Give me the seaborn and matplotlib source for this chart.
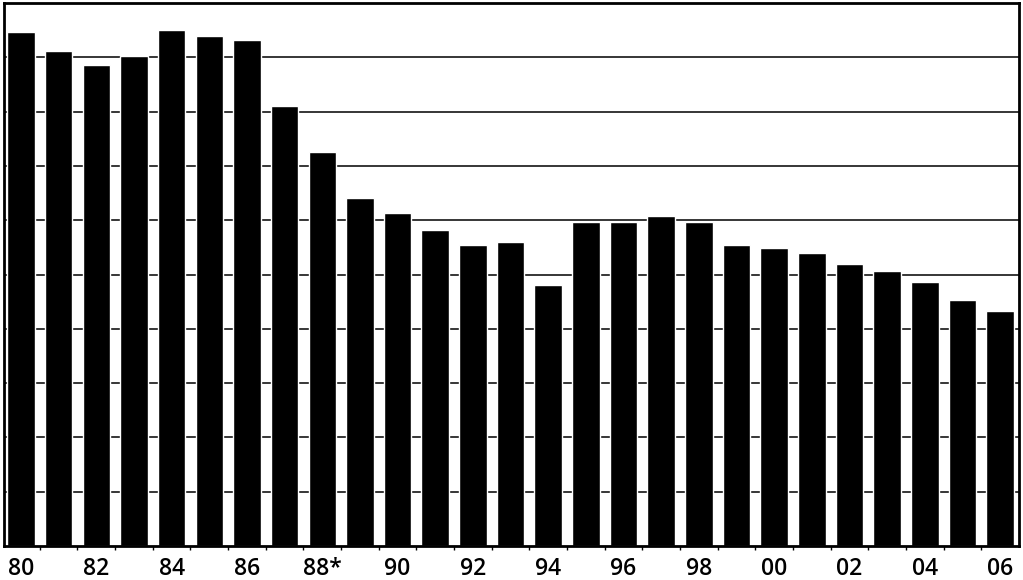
import matplotlib.pyplot as plt
import numpy as np
import pandas as pd
import seaborn as sns

years = ["80", "81", "82", "83", "84", "85", "86", "87", "88*", "89",
         "90", "91", "92", "93", "94", "95", "96", "97", "98", "99",
         "00", "01", "02", "03", "04", "05", "06"]
values = [9.47, 9.12, 8.86, 9.02, 9.50, 9.39, 9.32, 8.10, 7.26, 6.41,
          6.13, 5.82, 5.54, 5.60, 4.81, 5.97, 5.97, 6.08, 5.97, 5.54,
          5.49, 5.40, 5.19, 5.06, 4.86, 4.53, 4.33]
grid_levels = [1, 2, 3, 4, 5, 6, 7, 8, 9]

df = pd.DataFrame({"year": years, "value": values})

sns.set_style("white")
plt.rcParams['font.family'] = ['Open Sans', 'DejaVu Sans']

fig = plt.figure(figsize=(10.23, 5.80), dpi=100)
ax = fig.add_axes([4 / 1023, 34 / 580, 1015 / 1023, 543 / 580])

for g in grid_levels:
    ax.axhline(g, color="black", linewidth=1.1, zorder=0)

sns.barplot(data=df, x="year", y="value", color="black", width=0.73,
            saturation=1, ax=ax, zorder=2)

ax.set_xlim(-0.45, 26.5)
ax.set_ylim(0, 10)
ax.set_yticks([])
ax.set_xlabel("")
ax.set_ylabel("")

pos = np.arange(len(years))
ax.set_xticks(pos[::2])
ax.set_xticklabels(years[::2], fontsize=16.5, fontweight="semibold",
                   color="black")
ax.set_xticks(pos[:-1] + 0.5, minor=True)
ax.tick_params(axis="x", which="major", length=0, pad=8)
ax.tick_params(axis="x", which="minor", length=3, width=1, color="black",
               direction="out", bottom=True)

for side in ["top", "bottom", "left", "right"]:
    ax.spines[side].set_visible(True)
    ax.spines[side].set_color("black")
    ax.spines[side].set_linewidth(2)

fig.savefig("out.png", dpi=100)
